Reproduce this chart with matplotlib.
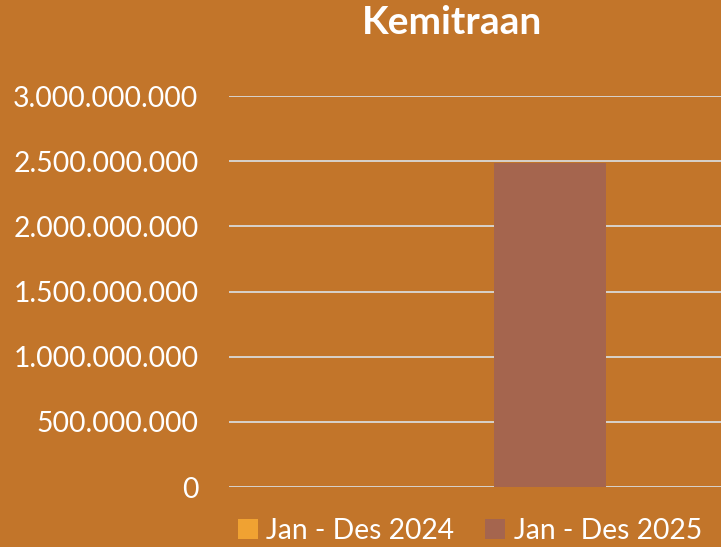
import matplotlib
matplotlib.use("Agg")
import matplotlib.pyplot as plt
from matplotlib.ticker import FuncFormatter

series = ["Jan - Des 2024", "Jan - Des 2025"]
values = [0, 2485000000]
colors = ["#F0A232", "#A5654E"]
yticks = [0, 500000000, 1000000000, 1500000000, 2000000000, 2500000000, 3000000000]
title = "Kemitraan"

bg = "#C2752A"
plt.rcParams['font.family'] = ['Lato', 'DejaVu Sans']

fig = plt.figure(figsize=(7.21, 5.47), dpi=100, facecolor=bg)
ax = fig.add_axes([229/721, 1-487/547, 1-229/721, (487-96)/547])
ax.set_facecolor(bg)

positions = [-0.5, 0.5]
for p, v, c, s in zip(positions, values, colors, series):
    ax.bar(p, v, width=1.0, color=c, label=s, zorder=3)

ax.set_xlim((229-494)/112, (721-494)/112)
ax.set_ylim(0, 3000000000)
ax.set_yticks(yticks)
ax.yaxis.set_major_formatter(FuncFormatter(lambda v, _: f"{int(v):,}".replace(",", ".")))
ax.tick_params(axis='y', colors='white', labelsize=20.4, length=0, pad=22)
ax.set_xticks([])
ax.grid(axis='y', color='#D9D9D9', linewidth=1.3, zorder=1)
for sp in ax.spines.values():
    sp.set_visible(False)

fig.text(452/721, 1-22/547, title, color='white', fontsize=28, fontweight='bold',
         ha='center', va='center')

leg = fig.legend(loc='center', bbox_to_anchor=(470/721, 1-531/547), ncol=2,
                 frameon=False, fontsize=20.3, labelcolor='white',
                 handlelength=0.7, handleheight=0.7, handletextpad=0.3, columnspacing=1.1)

fig.savefig("out.png", dpi=100, facecolor=bg)
